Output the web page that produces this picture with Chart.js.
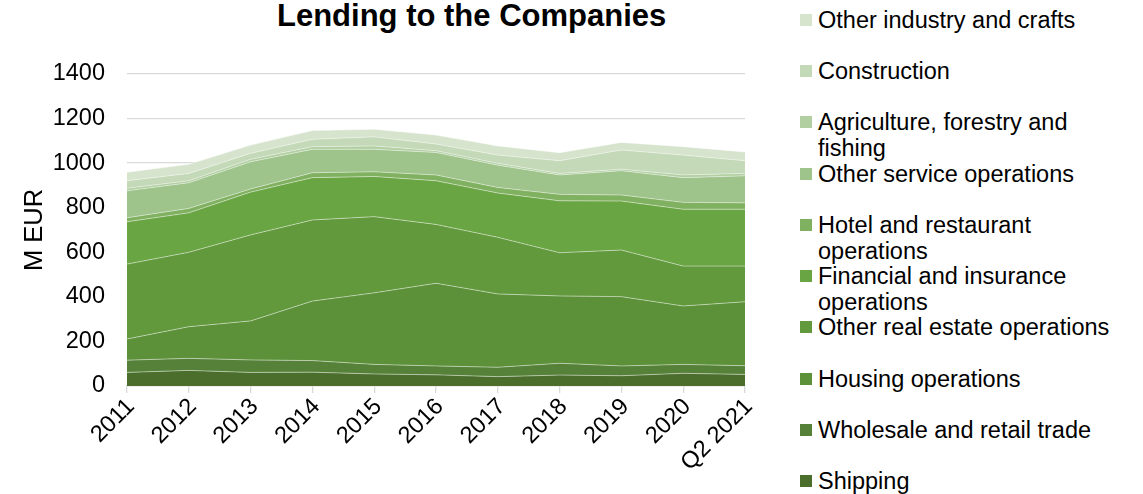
<!DOCTYPE html>
<html lang="en">
<head>
    <meta charset="UTF-8">
    <title>Lending to the Companies</title>
    <script src="https://cdn.jsdelivr.net/npm/chart.js@4.4.1/dist/chart.umd.min.js"></script>
    <style>
        html, body { margin: 0; padding: 0; background: #fff; }
        body { width: 1143px; height: 494px; position: relative; overflow: hidden; font-family: 'Liberation Sans', Arial, sans-serif; color: #000; }
        .chart-title { position: absolute; left: 277px; top: 0; font-size: 31px; font-weight: 700; line-height: 31px; white-space: nowrap; }
        .chart-box { position: absolute; left: 0; top: 0; width: 770px; height: 494px; }
        .legend { position: absolute; left: 800px; top: 0; margin: 0; padding: 0; list-style: none; }
        .legend li { position: absolute; left: 0; width: 330px; font-size: 23.5px; line-height: 26px; padding-left: 18px; white-space: nowrap; }
        .legend .swatch { position: absolute; left: 0; top: 7px; width: 12px; height: 12px; }
    </style>
</head>
<body>
    <div class="chart-title">Lending to the Companies</div>
    <div class="chart-box"><canvas id="lendingChart"></canvas></div>
    <ul class="legend" id="legend"></ul>
    <script>
        // years on the x axis
        const periods = ['2011','2012','2013','2014','2015','2016','2017','2018','2019','2020','Q2 2021'];

        // lending per sector, M EUR (stacked bottom to top)
        const shipping        = [61, 70, 61, 62, 54, 50, 42, 49, 46, 57, 52];
        const wholesaleRetail = [55, 54, 56, 52, 43, 40, 42, 53, 44, 40, 39];
        const housing         = [95, 142, 175, 267, 321, 371, 329, 302, 311, 262, 287];
        const otherRealEstate = [336, 334, 386, 364, 342, 264, 254, 194, 209, 179, 160];
        const financialInsurance = [190, 177, 192, 190, 180, 196, 199, 233, 220, 255, 255];
        const hotelRestaurant = [18, 20, 14, 22, 21, 26, 25, 29, 27, 31, 29];
        const otherService    = [121, 115, 122, 105, 101, 101, 100, 87, 109, 111, 121];
        const agriculture     = [11, 9, 11, 12, 15, 8, 8, 7, 7, 12, 11];
        const construction    = [34, 33, 27, 33, 41, 30, 37, 57, 86, 89, 57];
        const otherIndustry   = [38, 41, 37, 39, 34, 40, 41, 36, 34, 38, 39];

        const yTicks = [0, 200, 400, 600, 800, 1000, 1200, 1400];

        const series = [
            { label: 'Shipping', data: shipping, color: '#4b6e2d' },
            { label: 'Wholesale and retail trade', data: wholesaleRetail, color: '#558238' },
            { label: 'Housing operations', data: housing, color: '#5c9139' },
            { label: 'Other real estate operations', data: otherRealEstate, color: '#62993d' },
            { label: 'Financial and insurance operations', data: financialInsurance, color: '#6aa543' },
            { label: 'Hotel and restaurant operations', data: hotelRestaurant, color: '#80b160' },
            { label: 'Other service operations', data: otherService, color: '#9ec38b' },
            { label: 'Agriculture, forestry and fishing', data: agriculture, color: '#b1cfa1' },
            { label: 'Construction', data: construction, color: '#c4d9b7' },
            { label: 'Other industry and crafts', data: otherIndustry, color: '#d6e4ce' }
        ];

        Chart.defaults.font.family = "'Liberation Sans', Arial, sans-serif";
        Chart.defaults.color = '#000';

        new Chart(document.getElementById('lendingChart'), {
            type: 'line',
            data: {
                labels: periods,
                datasets: series.map((s, i) => ({
                    label: s.label,
                    data: s.data,
                    backgroundColor: s.color,
                    borderColor: 'rgba(255,255,255,0.45)',
                    borderWidth: 1,
                    pointRadius: 0,
                    tension: 0,
                    fill: i === 0 ? 'origin' : '-1'
                }))
            },
            options: {
                responsive: true,
                maintainAspectRatio: false,
                animation: false,
                layout: { padding: { left: 0, right: 25, top: 74, bottom: 0 } },
                plugins: { legend: { display: false }, tooltip: { enabled: false } },
                scales: {
                    x: {
                        ticks: { minRotation: 45, maxRotation: 45, autoSkip: false, padding: 0, labelOffset: 4, font: { size: 23.5 } },
                        grid: { drawOnChartArea: false, drawTicks: true, tickLength: 7, color: '#d9d9d9', lineWidth: 1.3 },
                        border: { display: true, color: '#d9d9d9', width: 1.3 },
                        afterFit: (scale) => { scale.height = 108; }
                    },
                    y: {
                        stacked: true,
                        min: yTicks[0],
                        max: yTicks[yTicks.length - 1],
                        afterBuildTicks: (scale) => { scale.ticks = yTicks.map(v => ({ value: v })); },
                        ticks: { padding: 22, font: { size: 23.5 }, callback: (v) => String(v) },
                        grid: { color: '#d9d9d9', lineWidth: 1.3, drawTicks: false },
                        border: { display: false },
                        title: { display: true, text: 'M EUR', font: { size: 25.5 }, padding: { top: 20, bottom: 0 } },
                        afterFit: (scale) => { scale.width = 127; }
                    }
                }
            }
        });

        // legend on the right, top entry = top layer
        const legend = document.getElementById('legend');
        const legendLines = {
            'Agriculture, forestry and fishing': 'Agriculture, forestry and<br>fishing',
            'Hotel and restaurant operations': 'Hotel and restaurant<br>operations',
            'Financial and insurance operations': 'Financial and insurance<br>operations'
        };
        series.slice().reverse().forEach((s, i) => {
            const li = document.createElement('li');
            li.style.top = (19.3 + i * 51.3 - 12.7) + 'px';
            li.innerHTML = `<span class="swatch" style="background:${s.color}"></span>${legendLines[s.label] || s.label}`;
            legend.appendChild(li);
        });
    </script>
</body>
</html>
